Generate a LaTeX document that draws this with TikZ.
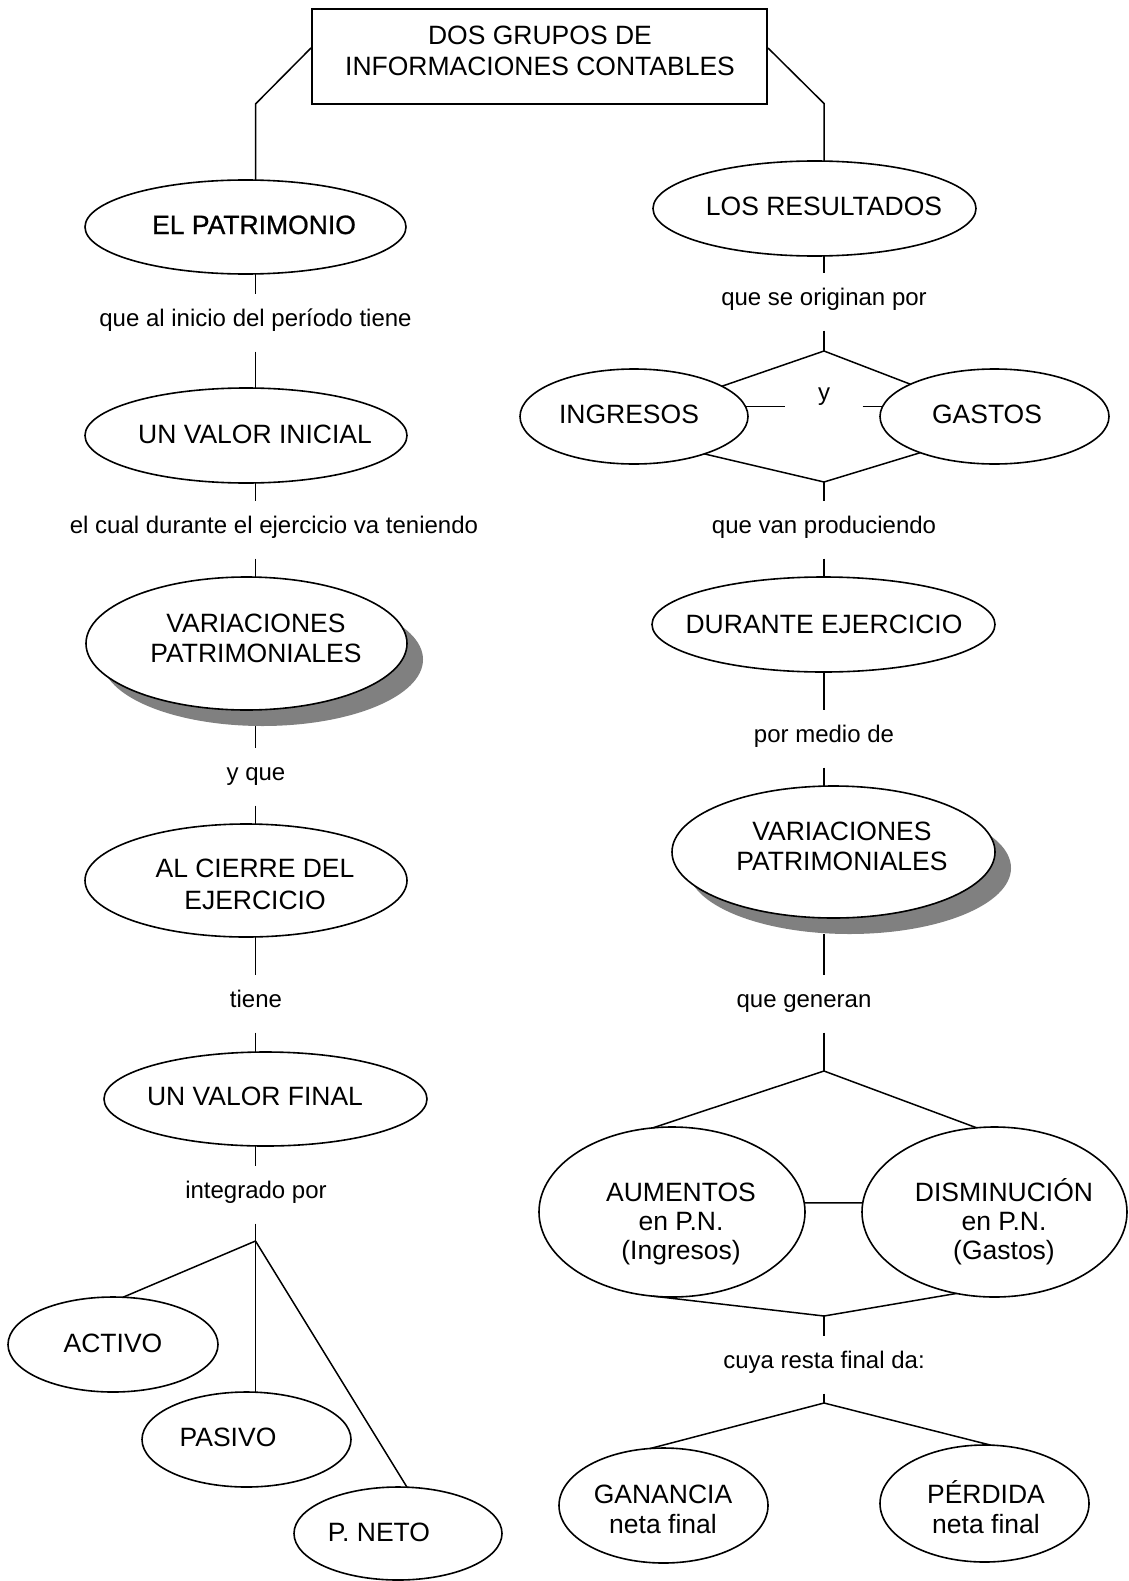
\documentclass[tikz,border=0pt]{standalone}
\usepackage{fontspec}
\setmainfont{Liberation Sans}
\newfontfamily\heavyfont[FakeBold=0.8]{Liberation Sans}
\usetikzlibrary{shapes.geometric}
\begin{document}
\begin{tikzpicture}[x=1pt, y=-1pt,
  conn/.style={line width=1.5pt},
  oval/.style={ellipse, draw, line width=1.6pt, fill=white, inner sep=0pt, outer sep=0pt},
  shadowoval/.style={ellipse, fill=black!50, inner sep=0pt, outer sep=0pt},
  big/.style={font=\fontsize{26.5}{30}\selectfont, anchor=base, inner sep=0pt},
  small/.style={font=\fontsize{24}{28}\selectfont, anchor=base, inner sep=0pt,
                text height=14pt, text depth=8pt, minimum height=57pt},
]
\useasboundingbox (0,0) rectangle (1128,1581);
\fill[white] (0,0) rectangle (1128,1581);

% column spines
\coordinate (lc) at (255.5,0);
\coordinate (rc) at (824,0);

% ---- title ----
\node[draw, line width=2pt, minimum width=455pt, minimum height=95pt, inner sep=0pt] (title) at (539.5,57) {};
\node[big] (title-a) at (540,45) {DOS GRUPOS DE};
\node[big] (title-b) at (540,76) {INFORMACIONES CONTABLES};
\coordinate (tl) at (255.5,104);
\coordinate (tr) at (824,103.5);

% ---- left column: el patrimonio ----
\node[oval, minimum width=321pt, minimum height=94pt] (pat) at (245.5,227) {};
\node[big, font=\fontsize{26.5}{30}\selectfont\heavyfont] (pat-t) at (254,234) {EL PATRIMONIO};

\node[small] (l1) at (255.5,326) {que al inicio del período tiene};

\node[oval, minimum width=322pt, minimum height=95pt] (vi) at (246,435.5) {};
\node[big] (vi-t) at (255,443) {UN VALOR INICIAL};

\node[small] (l2) at (274,533) {el cual durante el ejercicio va teniendo};

\node[shadowoval, minimum width=321pt, minimum height=133pt] (var1sh) at (262.5,659.5) {};
\node[oval, minimum width=321pt, minimum height=133pt] (var1) at (246.5,643.5) {};
\node[big] (var1-a) at (256,632) {VARIACIONES};
\node[big] (var1-b) at (256,662) {PATRIMONIALES};

\node[small] (l3) at (256,780) {y que};

\node[oval, minimum width=322pt, minimum height=113pt] (cie) at (246,880.5) {};
\node[big] (cie-a) at (255,877) {AL CIERRE DEL};
\node[big] (cie-b) at (255,909) {EJERCICIO};

\node[small] (l4) at (256,1007) {tiene};

\node[oval, minimum width=323pt, minimum height=94pt] (vf) at (265.5,1099) {};
\node[big] (vf-t) at (255,1105) {UN VALOR FINAL};

\node[small] (l5) at (256,1198) {integrado por};
\coordinate (j1) at (255.5,1241);

\node[oval, minimum width=210pt, minimum height=95pt] (act) at (113,1344.5) {};
\node[big] (act-t) at (113,1352) {ACTIVO};
\node[oval, minimum width=209pt, minimum height=95pt] (pas) at (246.5,1439.5) {};
\node[big] (pas-t) at (228,1446) {PASIVO};
\node[oval, minimum width=208pt, minimum height=93pt] (pn) at (398,1533.5) {};
\node[big] (pn-t) at (379,1541) {P. NETO};

% ---- right column: los resultados ----
\node[oval, minimum width=323pt, minimum height=95pt] (res) at (814.5,208.5) {};
\node[big] (res-t) at (824,215) {LOS RESULTADOS};

\node[small] (l6) at (824,305) {que se originan por};
\coordinate (d1) at (824,351);

\node[oval, minimum width=228pt, minimum height=95pt] (ing) at (634,416.5) {};
\node[big] (ing-t) at (629,423) {INGRESOS};
\node[oval, minimum width=229pt, minimum height=95pt] (gas) at (994.5,416.5) {};
\node[big] (gas-t) at (987,423) {GASTOS};
\node[font=\fontsize{24}{28}\selectfont, anchor=base, inner sep=0pt, minimum width=77pt] (yl) at (824,400) {y};
\coordinate (d2) at (824,482);

\node[small] (l7) at (824,533) {que van produciendo};

\node[oval, minimum width=343pt, minimum height=95pt] (dur) at (823.5,624.5) {};
\node[big] (dur-t) at (824,633) {DURANTE EJERCICIO};

\node[small] (l8) at (824,742) {por medio de};

\node[shadowoval, minimum width=323pt, minimum height=132pt] (var2sh) at (849.5,868) {};
\node[oval, minimum width=323pt, minimum height=132pt] (var2) at (833.5,852) {};
\node[big] (var2-a) at (842,840) {VARIACIONES};
\node[big] (var2-b) at (842,870) {PATRIMONIALES};

\node[small] (l9) at (804,1007) {que generan};
\coordinate (j2) at (824,1071);

\node[oval, minimum width=266pt, minimum height=170pt] (aum) at (672,1212) {};
\node[big] (aum-a) at (681,1201) {AUMENTOS};
\node[big] (aum-b) at (681,1230) {en P.N.};
\node[big] (aum-c) at (681,1259) {(Ingresos)};
\node[oval, minimum width=265pt, minimum height=170pt] (dis) at (994.5,1212) {};
\node[big] (dis-a) at (1004,1201) {DISMINUCIÓN};
\node[big] (dis-b) at (1004,1230) {en P.N.};
\node[big] (dis-c) at (1004,1259) {(Gastos)};
\coordinate (j3) at (824,1316);

\node[small] (l10) at (824,1368) {cuya resta final da:};
\coordinate (j4) at (824,1403);

\node[oval, minimum width=209pt, minimum height=115pt] (gan) at (663.5,1505.5) {};
\node[big] (gan-a) at (663,1503) {GANANCIA};
\node[big] (gan-b) at (663,1533) {neta final};
\node[oval, minimum width=209pt, minimum height=117pt] (per) at (984.5,1503.5) {};
\node[big] (per-a) at (986,1503) {PÉRDIDA};
\node[big] (per-b) at (986,1533) {neta final};

% ---- connectors ----
\draw[conn] ([yshift=9pt]title.west) -- (tl) -- (tl |- pat.north);
\draw[conn] ([yshift=9pt]title.east) -- (tr) -- (tr |- res.north);

\draw[conn] (lc |- pat.south) -- (lc |- l1.north);
\draw[conn] (lc |- l1.south) -- (lc |- vi.north);
\draw[conn] (lc |- vi.south) -- (lc |- l2.north);
\draw[conn] (lc |- l2.south) -- (lc |- var1.north);
\draw[conn] (lc |- var1sh.south) -- (lc |- l3.north);
\draw[conn] (lc |- l3.south) -- (lc |- cie.north);
\draw[conn] (lc |- cie.south) -- (lc |- l4.north);
\draw[conn] (lc |- l4.south) -- (lc |- vf.north);
\draw[conn] (lc |- vf.south) -- (lc |- l5.north);
\draw[conn] (lc |- l5.south) -- (j1);
\draw[conn] (j1) -- (act.78);
\draw[conn] (j1) -- (j1 |- pas.north);
\draw[conn] (j1) -- (pn.79);

\draw[conn] (rc |- res.south) -- (rc |- l6.north);
\draw[conn] (rc |- l6.south) -- (d1);
\draw[conn] (ing.19) -- (d1) -- (gas.159);
\draw[conn] (ing.332) -- (d2) -- (gas.206);
\draw[conn] (ing.5) -- (yl.west |- ing.5);
\draw[conn] (yl.east |- gas.175) -- (gas.175);
\draw[conn] (d2) -- (rc |- l7.north);
\draw[conn] (rc |- l7.south) -- (rc |- dur.north);
\draw[conn] (rc |- dur.south) -- (rc |- l8.north);
\draw[conn] (rc |- l8.south) -- (rc |- var2.north);
\draw[conn] (rc |- var2sh.south) -- (rc |- l9.north);
\draw[conn] (rc |- l9.south) -- (j2);
\draw[conn] (aum.103) -- (j2) -- (dis.102);
\draw[conn] (aum.4) -- (dis.176);
\draw[conn] (aum.257) -- (j3) -- (dis.245);
\draw[conn] (j3) -- (rc |- l10.north);
\draw[conn] (rc |- l10.south) -- (j4);
\draw[conn] (gan.103) -- (j4) -- (per.84);
\end{tikzpicture}
\end{document}
